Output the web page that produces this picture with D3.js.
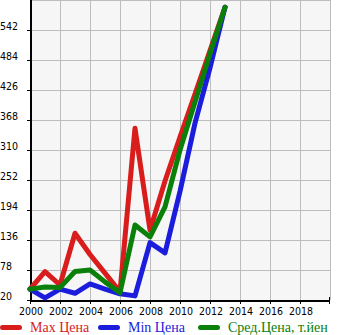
<!DOCTYPE html>
<html><head><meta charset="utf-8">
<script src="https://cdn.jsdelivr.net/npm/d3@7"></script>
<style>body{margin:0;background:#fff}svg{display:block}</style>
</head><body>
<svg id="c" width="345" height="335"></svg>
<script>
const years = [2000,2001,2002,2003,2004,2005,2006,2007,2008,2009,2010,2011,2012,2013];
const maxPrice = [41,75,49,149,108,72,36,352,155,250,335,418,502,586];
const minPrice = [41,24,41,33,51,41,32,28,131,111,230,362,469,586];
const avgPrice = [41,45,44,75,78,55,34,165,142,200,310,403,496,586];
const seriesNames = ["Max Цена","Min Цена","Сред.Цена, т.йен"];
const seriesColors = ["#d91c1c","#1c1cdc","#0a800a"];
const xTicks = [2000,2002,2004,2006,2008,2010,2012,2014,2016,2018];
const yTicks = [20,78,136,194,252,310,368,426,484,542];

const svg = d3.select("#c");
const L=30,R=330,T=0,B=300;
const x = d3.scaleLinear().domain([2000,2020]).range([L,R]);
const y = d3.scaleLinear().domain([20,600]).range([B,T]);

svg.append("rect").attr("x",L).attr("y",T).attr("width",R-L).attr("height",B-T).attr("fill","#f6f6f6");
const g = svg.append("g");
d3.range(2000,2021,2).forEach(v=>{
  g.append("line").attr("x1",x(v)+0.5).attr("x2",x(v)+0.5).attr("y1",T).attr("y2",B).attr("stroke","#bdbdbd").attr("stroke-width",1);
});
d3.range(20,601,58).forEach(v=>{
  g.append("line").attr("x1",L).attr("x2",R).attr("y1",Math.round(y(v))+0.5).attr("y2",Math.round(y(v))+0.5).attr("stroke","#bdbdbd").attr("stroke-width",1);
});

const font = "'DejaVu Sans Condensed','DejaVu Sans',sans-serif";
yTicks.forEach(v=>{
  svg.append("text").attr("x",0).attr("y",y(v)-0.5).attr("font-family",font).attr("font-size",10.5).attr("fill","#000").text(v);
  svg.append("line").attr("x1",27).attr("x2",L).attr("y1",y(v)+0.5).attr("y2",y(v)+0.5).attr("stroke","#000");
});
xTicks.forEach(v=>{
  svg.append("text").attr("x",x(v)+1).attr("y",315).attr("text-anchor","middle").attr("font-family",font).attr("font-size",10.5).attr("fill","#000").text(v);
  svg.append("line").attr("x1",x(v)+0.5).attr("x2",x(v)+0.5).attr("y1",B).attr("y2",B+4).attr("stroke","#000");
});
svg.append("line").attr("x1",R-0.5).attr("x2",R-0.5).attr("y1",B-3).attr("y2",B+4).attr("stroke","#000");
svg.append("line").attr("x1",L+1).attr("x2",L+1).attr("y1",T).attr("y2",B+2).attr("stroke","#000").attr("stroke-width",2);
svg.append("line").attr("x1",L).attr("x2",R).attr("y1",B+1).attr("y2",B+1).attr("stroke","#000").attr("stroke-width",2);

const line = d3.line().x((d,i)=>x(years[i])).y(d=>y(d));
[maxPrice,minPrice,avgPrice].forEach((s,i)=>{
  svg.append("path").attr("d",line(s)).attr("fill","none").attr("stroke",seriesColors[i])
    .attr("stroke-width",5).attr("stroke-linejoin","round").attr("stroke-linecap","round");
});

const legX=[0,98,198];
seriesNames.forEach((n,i)=>{
  svg.append("line").attr("x1",legX[i]+2.5).attr("x2",legX[i]+19.5).attr("y1",327.5).attr("y2",327.5)
    .attr("stroke",seriesColors[i]).attr("stroke-width",5).attr("stroke-linecap","round");
  svg.append("text").attr("x",legX[i]+30).attr("y",332).attr("font-family","'Liberation Serif','Times New Roman',serif")
    .attr("font-size",14).attr("fill",seriesColors[i]).text(n);
});
</script>
</body></html>
